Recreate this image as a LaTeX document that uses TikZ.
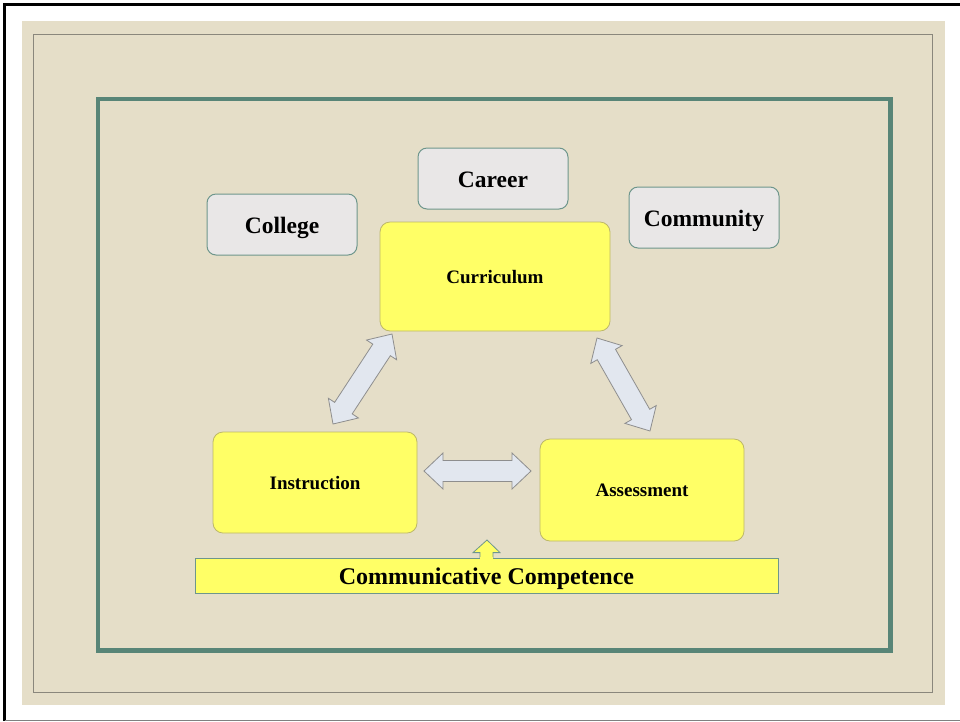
\documentclass[tikz,border=0pt]{standalone}
\usepackage{fontspec}
\setmainfont{Liberation Serif}
\usetikzlibrary{calc}
\definecolor{pagebeige}{HTML}{E5DEC8}
\definecolor{framegray}{HTML}{8A877C}
\definecolor{frameteal}{HTML}{588577}
\definecolor{boxgray}{HTML}{E9E7E7}
\definecolor{boxedge}{HTML}{6E968C}
\definecolor{boxyellow}{HTML}{FFFF66}
\definecolor{yellowedge}{HTML}{BDB768}
\definecolor{arrowfill}{HTML}{E2E7EF}
\definecolor{arrowedge}{HTML}{8E8E8E}
\tikzset{
  goalbox/.style={draw=boxedge, line width=1pt, fill=boxgray, rounded corners=9pt,
    minimum width=150pt, minimum height=61pt, inner sep=0pt,
    text height=20pt, text depth=3pt,
    font=\fontsize{23.5}{27}\selectfont\bfseries},
  corebox/.style={draw=yellowedge, line width=0.8pt, fill=boxyellow, rounded corners=10pt,
    inner sep=0pt, text height=15pt, text depth=2pt,
    font=\fontsize{19}{22}\selectfont\bfseries},
  basebar/.style={draw=boxedge, line width=0.8pt, fill=boxyellow, inner sep=0pt,
    minimum width=583pt, minimum height=35pt, text height=20pt, text depth=3pt,
    font=\fontsize{24}{28}\selectfont\bfseries},
  blockarrow/.style={draw=arrowedge, line width=0.8pt, fill=arrowfill, line join=miter},
}
% two-headed block arrow from tip #1 to tip #2
\newcommand\twowayarrow[2]{%
  \draw[blockarrow] let \p1=(#1), \p2=(#2),
      \n1={atan2(\y2-\y1,\x2-\x1)}, \n2={veclen(\x2-\x1,\y2-\y1)} in
    [shift={(\p1)}, rotate=\n1]
    (0pt,0pt) -- (19pt,18pt) -- (19pt,10.5pt) -- ({\n2*1pt-19pt},10.5pt)
    -- ({\n2*1pt-19pt},18pt) -- ({\n2*1pt},0pt) -- ({\n2*1pt-19pt},-18pt)
    -- ({\n2*1pt-19pt},-10.5pt) -- (19pt,-10.5pt) -- (19pt,-18pt) -- cycle;}
\begin{document}
\begin{tikzpicture}[x=1pt,y=-1pt]
\useasboundingbox (0,0) rectangle (960,721);
\fill[white] (0,0) rectangle (960,721);
% page edges
\draw[black, line width=2.5pt] (4.5,721) -- (4.5,4.5) -- (960,4.5);
\draw[gray, line width=1pt] (4.5,720) -- (960,720);
% slide background and frames
\fill[pagebeige] (22,21) rectangle (945,705);
\draw[framegray, line width=1pt] (33,34) rectangle (932.5,692);
\draw[frameteal, line width=4.5pt] (98,99) rectangle (890.5,650.5);

% outcomes
\node[goalbox] (college) at (282,224.5) {College};
\node[goalbox] (career) at (493,178.5) {Career};
\node[goalbox] (community) at (704,217.5) {Community};

% core triangle
\node[corebox, minimum width=230pt, minimum height=109pt] (curriculum) at (495,276.5) {Curriculum};
\node[corebox, minimum width=204pt, minimum height=101pt] (instruction) at (315,482.5) {Instruction};
\node[corebox, minimum width=204pt, minimum height=102pt] (assessment) at (642,490) {Assessment};

% foundation
\node[basebar] (competence) at (486.5,575.5) {Communicative Competence};

% arrow tips
\coordinate (curSW) at (392,334);
\coordinate (insN) at (333,424);
\coordinate (curSE) at (597,338);
\coordinate (assN) at (650,431);
\coordinate (insE) at (424,471);
\coordinate (assW) at (531,471);

\twowayarrow{insN}{curSW}
\twowayarrow{curSE}{assN}
\twowayarrow{insE}{assW}

% small arrow rising from the foundation bar
\coordinate (liftTip) at (487,540);
\draw[draw=boxedge, line width=0.8pt, fill=boxyellow, line join=miter]
  ($(competence.north)+(-6.5,1)$) -- ($(competence.north)+(-6.5,-5)$) -- ($(competence.north)+(-13.5,-5)$)
  -- (liftTip) -- ($(competence.north)+(13.5,-5)$) -- ($(competence.north)+(6.5,-5)$)
  -- ($(competence.north)+(6.5,1)$);
\fill[boxyellow] ($(competence.north)+(-6.1,-0.4)$) rectangle ($(competence.north)+(6.1,1.6)$);
\end{tikzpicture}
\end{document}
